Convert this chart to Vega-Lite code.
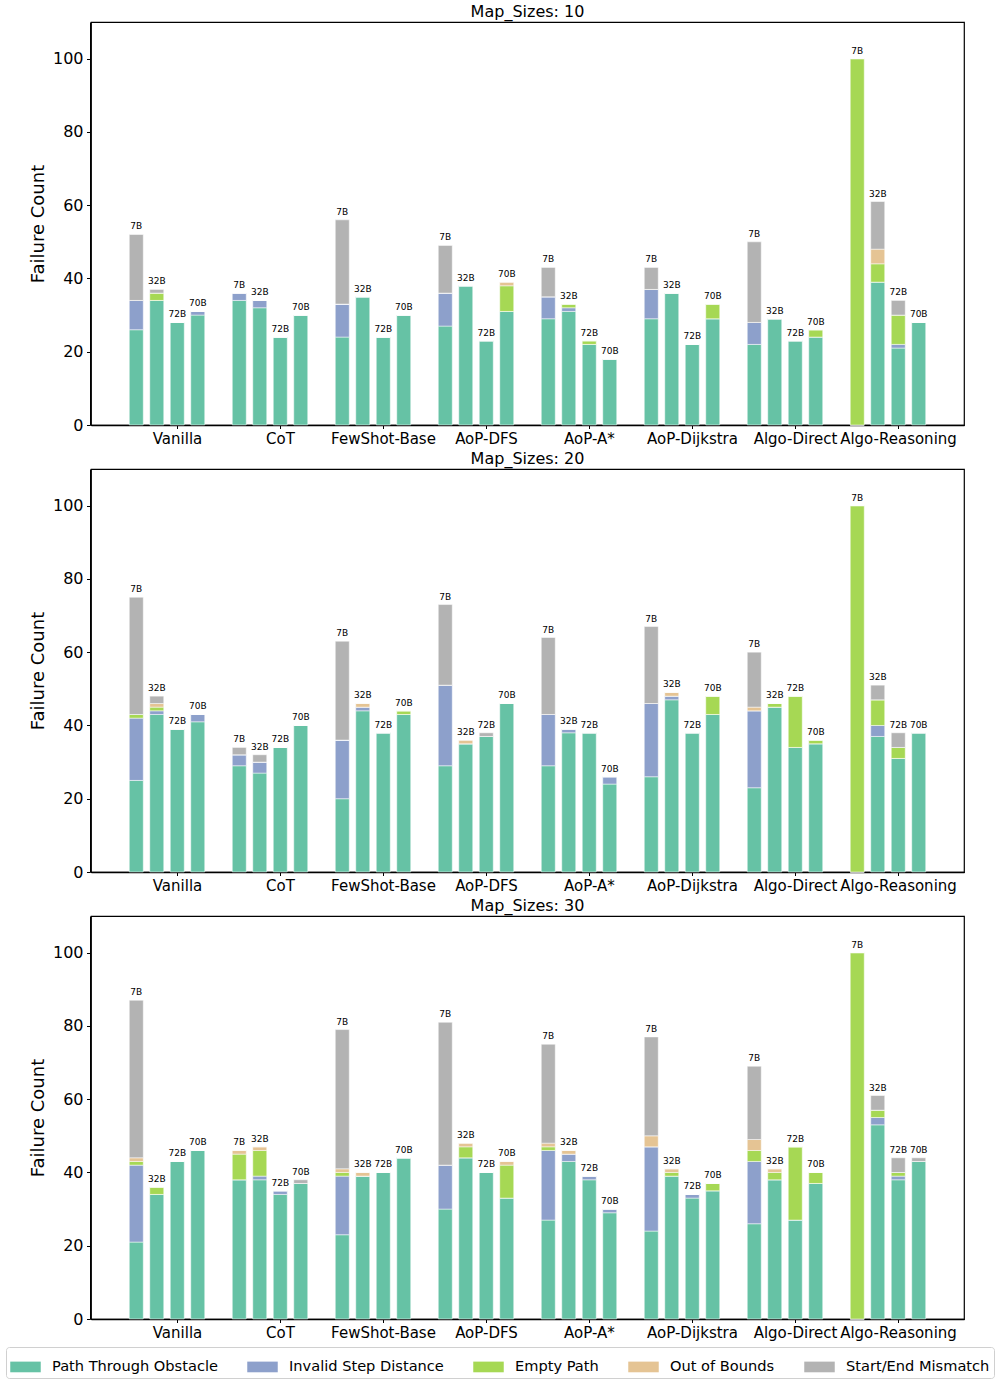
{
  "$schema": "https://vega.github.io/schema/vega-lite/v6.json",
  "background": "white",
  "padding": {"left": 5, "top": 3, "right": 3, "bottom": 3},
  "data": {"values": [
    {"s": 10, "m": "Vanilla", "mo": "7B", "Path Through Obstacle": 26, "Invalid Step Distance": 8, "Empty Path": 0, "Out of Bounds": 0, "Start/End Mismatch": 18},
    {"s": 10, "m": "Vanilla", "mo": "32B", "Path Through Obstacle": 34, "Invalid Step Distance": 0, "Empty Path": 2, "Out of Bounds": 0, "Start/End Mismatch": 1},
    {"s": 10, "m": "Vanilla", "mo": "72B", "Path Through Obstacle": 28, "Invalid Step Distance": 0, "Empty Path": 0, "Out of Bounds": 0, "Start/End Mismatch": 0},
    {"s": 10, "m": "Vanilla", "mo": "70B", "Path Through Obstacle": 30, "Invalid Step Distance": 1, "Empty Path": 0, "Out of Bounds": 0, "Start/End Mismatch": 0},
    {"s": 10, "m": "CoT", "mo": "7B", "Path Through Obstacle": 34, "Invalid Step Distance": 2, "Empty Path": 0, "Out of Bounds": 0, "Start/End Mismatch": 0},
    {"s": 10, "m": "CoT", "mo": "32B", "Path Through Obstacle": 32, "Invalid Step Distance": 2, "Empty Path": 0, "Out of Bounds": 0, "Start/End Mismatch": 0},
    {"s": 10, "m": "CoT", "mo": "72B", "Path Through Obstacle": 24, "Invalid Step Distance": 0, "Empty Path": 0, "Out of Bounds": 0, "Start/End Mismatch": 0},
    {"s": 10, "m": "CoT", "mo": "70B", "Path Through Obstacle": 30, "Invalid Step Distance": 0, "Empty Path": 0, "Out of Bounds": 0, "Start/End Mismatch": 0},
    {"s": 10, "m": "FewShot-Base", "mo": "7B", "Path Through Obstacle": 24, "Invalid Step Distance": 9, "Empty Path": 0, "Out of Bounds": 0, "Start/End Mismatch": 23},
    {"s": 10, "m": "FewShot-Base", "mo": "32B", "Path Through Obstacle": 35, "Invalid Step Distance": 0, "Empty Path": 0, "Out of Bounds": 0, "Start/End Mismatch": 0},
    {"s": 10, "m": "FewShot-Base", "mo": "72B", "Path Through Obstacle": 24, "Invalid Step Distance": 0, "Empty Path": 0, "Out of Bounds": 0, "Start/End Mismatch": 0},
    {"s": 10, "m": "FewShot-Base", "mo": "70B", "Path Through Obstacle": 30, "Invalid Step Distance": 0, "Empty Path": 0, "Out of Bounds": 0, "Start/End Mismatch": 0},
    {"s": 10, "m": "AoP-DFS", "mo": "7B", "Path Through Obstacle": 27, "Invalid Step Distance": 9, "Empty Path": 0, "Out of Bounds": 0, "Start/End Mismatch": 13},
    {"s": 10, "m": "AoP-DFS", "mo": "32B", "Path Through Obstacle": 38, "Invalid Step Distance": 0, "Empty Path": 0, "Out of Bounds": 0, "Start/End Mismatch": 0},
    {"s": 10, "m": "AoP-DFS", "mo": "72B", "Path Through Obstacle": 23, "Invalid Step Distance": 0, "Empty Path": 0, "Out of Bounds": 0, "Start/End Mismatch": 0},
    {"s": 10, "m": "AoP-DFS", "mo": "70B", "Path Through Obstacle": 31, "Invalid Step Distance": 0, "Empty Path": 7, "Out of Bounds": 1, "Start/End Mismatch": 0},
    {"s": 10, "m": "AoP-A*", "mo": "7B", "Path Through Obstacle": 29, "Invalid Step Distance": 6, "Empty Path": 0, "Out of Bounds": 0, "Start/End Mismatch": 8},
    {"s": 10, "m": "AoP-A*", "mo": "32B", "Path Through Obstacle": 31, "Invalid Step Distance": 1, "Empty Path": 1, "Out of Bounds": 0, "Start/End Mismatch": 0},
    {"s": 10, "m": "AoP-A*", "mo": "72B", "Path Through Obstacle": 22, "Invalid Step Distance": 0, "Empty Path": 1, "Out of Bounds": 0, "Start/End Mismatch": 0},
    {"s": 10, "m": "AoP-A*", "mo": "70B", "Path Through Obstacle": 18, "Invalid Step Distance": 0, "Empty Path": 0, "Out of Bounds": 0, "Start/End Mismatch": 0},
    {"s": 10, "m": "AoP-Dijkstra", "mo": "7B", "Path Through Obstacle": 29, "Invalid Step Distance": 8, "Empty Path": 0, "Out of Bounds": 0, "Start/End Mismatch": 6},
    {"s": 10, "m": "AoP-Dijkstra", "mo": "32B", "Path Through Obstacle": 36, "Invalid Step Distance": 0, "Empty Path": 0, "Out of Bounds": 0, "Start/End Mismatch": 0},
    {"s": 10, "m": "AoP-Dijkstra", "mo": "72B", "Path Through Obstacle": 22, "Invalid Step Distance": 0, "Empty Path": 0, "Out of Bounds": 0, "Start/End Mismatch": 0},
    {"s": 10, "m": "AoP-Dijkstra", "mo": "70B", "Path Through Obstacle": 29, "Invalid Step Distance": 0, "Empty Path": 4, "Out of Bounds": 0, "Start/End Mismatch": 0},
    {"s": 10, "m": "Algo-Direct", "mo": "7B", "Path Through Obstacle": 22, "Invalid Step Distance": 6, "Empty Path": 0, "Out of Bounds": 0, "Start/End Mismatch": 22},
    {"s": 10, "m": "Algo-Direct", "mo": "32B", "Path Through Obstacle": 29, "Invalid Step Distance": 0, "Empty Path": 0, "Out of Bounds": 0, "Start/End Mismatch": 0},
    {"s": 10, "m": "Algo-Direct", "mo": "72B", "Path Through Obstacle": 23, "Invalid Step Distance": 0, "Empty Path": 0, "Out of Bounds": 0, "Start/End Mismatch": 0},
    {"s": 10, "m": "Algo-Direct", "mo": "70B", "Path Through Obstacle": 24, "Invalid Step Distance": 0, "Empty Path": 2, "Out of Bounds": 0, "Start/End Mismatch": 0},
    {"s": 10, "m": "Algo-Reasoning", "mo": "7B", "Path Through Obstacle": 0, "Invalid Step Distance": 0, "Empty Path": 100, "Out of Bounds": 0, "Start/End Mismatch": 0},
    {"s": 10, "m": "Algo-Reasoning", "mo": "32B", "Path Through Obstacle": 39, "Invalid Step Distance": 0, "Empty Path": 5, "Out of Bounds": 4, "Start/End Mismatch": 13},
    {"s": 10, "m": "Algo-Reasoning", "mo": "72B", "Path Through Obstacle": 21, "Invalid Step Distance": 1, "Empty Path": 8, "Out of Bounds": 0, "Start/End Mismatch": 4},
    {"s": 10, "m": "Algo-Reasoning", "mo": "70B", "Path Through Obstacle": 28, "Invalid Step Distance": 0, "Empty Path": 0, "Out of Bounds": 0, "Start/End Mismatch": 0},

    {"s": 20, "m": "Vanilla", "mo": "7B", "Path Through Obstacle": 25, "Invalid Step Distance": 17, "Empty Path": 1, "Out of Bounds": 0, "Start/End Mismatch": 32},
    {"s": 20, "m": "Vanilla", "mo": "32B", "Path Through Obstacle": 43, "Invalid Step Distance": 1, "Empty Path": 1, "Out of Bounds": 1, "Start/End Mismatch": 2},
    {"s": 20, "m": "Vanilla", "mo": "72B", "Path Through Obstacle": 39, "Invalid Step Distance": 0, "Empty Path": 0, "Out of Bounds": 0, "Start/End Mismatch": 0},
    {"s": 20, "m": "Vanilla", "mo": "70B", "Path Through Obstacle": 41, "Invalid Step Distance": 2, "Empty Path": 0, "Out of Bounds": 0, "Start/End Mismatch": 0},
    {"s": 20, "m": "CoT", "mo": "7B", "Path Through Obstacle": 29, "Invalid Step Distance": 3, "Empty Path": 0, "Out of Bounds": 0, "Start/End Mismatch": 2},
    {"s": 20, "m": "CoT", "mo": "32B", "Path Through Obstacle": 27, "Invalid Step Distance": 3, "Empty Path": 0, "Out of Bounds": 0, "Start/End Mismatch": 2},
    {"s": 20, "m": "CoT", "mo": "72B", "Path Through Obstacle": 34, "Invalid Step Distance": 0, "Empty Path": 0, "Out of Bounds": 0, "Start/End Mismatch": 0},
    {"s": 20, "m": "CoT", "mo": "70B", "Path Through Obstacle": 40, "Invalid Step Distance": 0, "Empty Path": 0, "Out of Bounds": 0, "Start/End Mismatch": 0},
    {"s": 20, "m": "FewShot-Base", "mo": "7B", "Path Through Obstacle": 20, "Invalid Step Distance": 16, "Empty Path": 0, "Out of Bounds": 0, "Start/End Mismatch": 27},
    {"s": 20, "m": "FewShot-Base", "mo": "32B", "Path Through Obstacle": 44, "Invalid Step Distance": 1, "Empty Path": 0, "Out of Bounds": 1, "Start/End Mismatch": 0},
    {"s": 20, "m": "FewShot-Base", "mo": "72B", "Path Through Obstacle": 38, "Invalid Step Distance": 0, "Empty Path": 0, "Out of Bounds": 0, "Start/End Mismatch": 0},
    {"s": 20, "m": "FewShot-Base", "mo": "70B", "Path Through Obstacle": 43, "Invalid Step Distance": 0, "Empty Path": 1, "Out of Bounds": 0, "Start/End Mismatch": 0},
    {"s": 20, "m": "AoP-DFS", "mo": "7B", "Path Through Obstacle": 29, "Invalid Step Distance": 22, "Empty Path": 0, "Out of Bounds": 0, "Start/End Mismatch": 22},
    {"s": 20, "m": "AoP-DFS", "mo": "32B", "Path Through Obstacle": 35, "Invalid Step Distance": 0, "Empty Path": 0, "Out of Bounds": 1, "Start/End Mismatch": 0},
    {"s": 20, "m": "AoP-DFS", "mo": "72B", "Path Through Obstacle": 37, "Invalid Step Distance": 0, "Empty Path": 0, "Out of Bounds": 0, "Start/End Mismatch": 1},
    {"s": 20, "m": "AoP-DFS", "mo": "70B", "Path Through Obstacle": 46, "Invalid Step Distance": 0, "Empty Path": 0, "Out of Bounds": 0, "Start/End Mismatch": 0},
    {"s": 20, "m": "AoP-A*", "mo": "7B", "Path Through Obstacle": 29, "Invalid Step Distance": 14, "Empty Path": 0, "Out of Bounds": 0, "Start/End Mismatch": 21},
    {"s": 20, "m": "AoP-A*", "mo": "32B", "Path Through Obstacle": 38, "Invalid Step Distance": 1, "Empty Path": 0, "Out of Bounds": 0, "Start/End Mismatch": 0},
    {"s": 20, "m": "AoP-A*", "mo": "72B", "Path Through Obstacle": 38, "Invalid Step Distance": 0, "Empty Path": 0, "Out of Bounds": 0, "Start/End Mismatch": 0},
    {"s": 20, "m": "AoP-A*", "mo": "70B", "Path Through Obstacle": 24, "Invalid Step Distance": 2, "Empty Path": 0, "Out of Bounds": 0, "Start/End Mismatch": 0},
    {"s": 20, "m": "AoP-Dijkstra", "mo": "7B", "Path Through Obstacle": 26, "Invalid Step Distance": 20, "Empty Path": 0, "Out of Bounds": 0, "Start/End Mismatch": 21},
    {"s": 20, "m": "AoP-Dijkstra", "mo": "32B", "Path Through Obstacle": 47, "Invalid Step Distance": 1, "Empty Path": 0, "Out of Bounds": 1, "Start/End Mismatch": 0},
    {"s": 20, "m": "AoP-Dijkstra", "mo": "72B", "Path Through Obstacle": 38, "Invalid Step Distance": 0, "Empty Path": 0, "Out of Bounds": 0, "Start/End Mismatch": 0},
    {"s": 20, "m": "AoP-Dijkstra", "mo": "70B", "Path Through Obstacle": 43, "Invalid Step Distance": 0, "Empty Path": 5, "Out of Bounds": 0, "Start/End Mismatch": 0},
    {"s": 20, "m": "Algo-Direct", "mo": "7B", "Path Through Obstacle": 23, "Invalid Step Distance": 21, "Empty Path": 0, "Out of Bounds": 1, "Start/End Mismatch": 15},
    {"s": 20, "m": "Algo-Direct", "mo": "32B", "Path Through Obstacle": 45, "Invalid Step Distance": 0, "Empty Path": 1, "Out of Bounds": 0, "Start/End Mismatch": 0},
    {"s": 20, "m": "Algo-Direct", "mo": "72B", "Path Through Obstacle": 34, "Invalid Step Distance": 0, "Empty Path": 14, "Out of Bounds": 0, "Start/End Mismatch": 0},
    {"s": 20, "m": "Algo-Direct", "mo": "70B", "Path Through Obstacle": 35, "Invalid Step Distance": 0, "Empty Path": 1, "Out of Bounds": 0, "Start/End Mismatch": 0},
    {"s": 20, "m": "Algo-Reasoning", "mo": "7B", "Path Through Obstacle": 0, "Invalid Step Distance": 0, "Empty Path": 100, "Out of Bounds": 0, "Start/End Mismatch": 0},
    {"s": 20, "m": "Algo-Reasoning", "mo": "32B", "Path Through Obstacle": 37, "Invalid Step Distance": 3, "Empty Path": 7, "Out of Bounds": 0, "Start/End Mismatch": 4},
    {"s": 20, "m": "Algo-Reasoning", "mo": "72B", "Path Through Obstacle": 31, "Invalid Step Distance": 0, "Empty Path": 3, "Out of Bounds": 0, "Start/End Mismatch": 4},
    {"s": 20, "m": "Algo-Reasoning", "mo": "70B", "Path Through Obstacle": 38, "Invalid Step Distance": 0, "Empty Path": 0, "Out of Bounds": 0, "Start/End Mismatch": 0},

    {"s": 30, "m": "Vanilla", "mo": "7B", "Path Through Obstacle": 21, "Invalid Step Distance": 21, "Empty Path": 1, "Out of Bounds": 1, "Start/End Mismatch": 43},
    {"s": 30, "m": "Vanilla", "mo": "32B", "Path Through Obstacle": 34, "Invalid Step Distance": 0, "Empty Path": 2, "Out of Bounds": 0, "Start/End Mismatch": 0},
    {"s": 30, "m": "Vanilla", "mo": "72B", "Path Through Obstacle": 43, "Invalid Step Distance": 0, "Empty Path": 0, "Out of Bounds": 0, "Start/End Mismatch": 0},
    {"s": 30, "m": "Vanilla", "mo": "70B", "Path Through Obstacle": 46, "Invalid Step Distance": 0, "Empty Path": 0, "Out of Bounds": 0, "Start/End Mismatch": 0},
    {"s": 30, "m": "CoT", "mo": "7B", "Path Through Obstacle": 38, "Invalid Step Distance": 0, "Empty Path": 7, "Out of Bounds": 1, "Start/End Mismatch": 0},
    {"s": 30, "m": "CoT", "mo": "32B", "Path Through Obstacle": 38, "Invalid Step Distance": 1, "Empty Path": 7, "Out of Bounds": 1, "Start/End Mismatch": 0},
    {"s": 30, "m": "CoT", "mo": "72B", "Path Through Obstacle": 34, "Invalid Step Distance": 1, "Empty Path": 0, "Out of Bounds": 0, "Start/End Mismatch": 0},
    {"s": 30, "m": "CoT", "mo": "70B", "Path Through Obstacle": 37, "Invalid Step Distance": 0, "Empty Path": 0, "Out of Bounds": 0, "Start/End Mismatch": 1},
    {"s": 30, "m": "FewShot-Base", "mo": "7B", "Path Through Obstacle": 23, "Invalid Step Distance": 16, "Empty Path": 1, "Out of Bounds": 1, "Start/End Mismatch": 38},
    {"s": 30, "m": "FewShot-Base", "mo": "32B", "Path Through Obstacle": 39, "Invalid Step Distance": 0, "Empty Path": 0, "Out of Bounds": 1, "Start/End Mismatch": 0},
    {"s": 30, "m": "FewShot-Base", "mo": "72B", "Path Through Obstacle": 40, "Invalid Step Distance": 0, "Empty Path": 0, "Out of Bounds": 0, "Start/End Mismatch": 0},
    {"s": 30, "m": "FewShot-Base", "mo": "70B", "Path Through Obstacle": 44, "Invalid Step Distance": 0, "Empty Path": 0, "Out of Bounds": 0, "Start/End Mismatch": 0},
    {"s": 30, "m": "AoP-DFS", "mo": "7B", "Path Through Obstacle": 30, "Invalid Step Distance": 12, "Empty Path": 0, "Out of Bounds": 0, "Start/End Mismatch": 39},
    {"s": 30, "m": "AoP-DFS", "mo": "32B", "Path Through Obstacle": 44, "Invalid Step Distance": 0, "Empty Path": 3, "Out of Bounds": 1, "Start/End Mismatch": 0},
    {"s": 30, "m": "AoP-DFS", "mo": "72B", "Path Through Obstacle": 40, "Invalid Step Distance": 0, "Empty Path": 0, "Out of Bounds": 0, "Start/End Mismatch": 0},
    {"s": 30, "m": "AoP-DFS", "mo": "70B", "Path Through Obstacle": 33, "Invalid Step Distance": 0, "Empty Path": 9, "Out of Bounds": 1, "Start/End Mismatch": 0},
    {"s": 30, "m": "AoP-A*", "mo": "7B", "Path Through Obstacle": 27, "Invalid Step Distance": 19, "Empty Path": 1, "Out of Bounds": 1, "Start/End Mismatch": 27},
    {"s": 30, "m": "AoP-A*", "mo": "32B", "Path Through Obstacle": 43, "Invalid Step Distance": 2, "Empty Path": 0, "Out of Bounds": 1, "Start/End Mismatch": 0},
    {"s": 30, "m": "AoP-A*", "mo": "72B", "Path Through Obstacle": 38, "Invalid Step Distance": 1, "Empty Path": 0, "Out of Bounds": 0, "Start/End Mismatch": 0},
    {"s": 30, "m": "AoP-A*", "mo": "70B", "Path Through Obstacle": 29, "Invalid Step Distance": 1, "Empty Path": 0, "Out of Bounds": 0, "Start/End Mismatch": 0},
    {"s": 30, "m": "AoP-Dijkstra", "mo": "7B", "Path Through Obstacle": 24, "Invalid Step Distance": 23, "Empty Path": 0, "Out of Bounds": 3, "Start/End Mismatch": 27},
    {"s": 30, "m": "AoP-Dijkstra", "mo": "32B", "Path Through Obstacle": 39, "Invalid Step Distance": 0, "Empty Path": 1, "Out of Bounds": 1, "Start/End Mismatch": 0},
    {"s": 30, "m": "AoP-Dijkstra", "mo": "72B", "Path Through Obstacle": 33, "Invalid Step Distance": 1, "Empty Path": 0, "Out of Bounds": 0, "Start/End Mismatch": 0},
    {"s": 30, "m": "AoP-Dijkstra", "mo": "70B", "Path Through Obstacle": 35, "Invalid Step Distance": 0, "Empty Path": 2, "Out of Bounds": 0, "Start/End Mismatch": 0},
    {"s": 30, "m": "Algo-Direct", "mo": "7B", "Path Through Obstacle": 26, "Invalid Step Distance": 17, "Empty Path": 3, "Out of Bounds": 3, "Start/End Mismatch": 20},
    {"s": 30, "m": "Algo-Direct", "mo": "32B", "Path Through Obstacle": 38, "Invalid Step Distance": 0, "Empty Path": 2, "Out of Bounds": 1, "Start/End Mismatch": 0},
    {"s": 30, "m": "Algo-Direct", "mo": "72B", "Path Through Obstacle": 27, "Invalid Step Distance": 0, "Empty Path": 20, "Out of Bounds": 0, "Start/End Mismatch": 0},
    {"s": 30, "m": "Algo-Direct", "mo": "70B", "Path Through Obstacle": 37, "Invalid Step Distance": 0, "Empty Path": 3, "Out of Bounds": 0, "Start/End Mismatch": 0},
    {"s": 30, "m": "Algo-Reasoning", "mo": "7B", "Path Through Obstacle": 0, "Invalid Step Distance": 0, "Empty Path": 100, "Out of Bounds": 0, "Start/End Mismatch": 0},
    {"s": 30, "m": "Algo-Reasoning", "mo": "32B", "Path Through Obstacle": 53, "Invalid Step Distance": 2, "Empty Path": 2, "Out of Bounds": 0, "Start/End Mismatch": 4},
    {"s": 30, "m": "Algo-Reasoning", "mo": "72B", "Path Through Obstacle": 38, "Invalid Step Distance": 1, "Empty Path": 1, "Out of Bounds": 0, "Start/End Mismatch": 4},
    {"s": 30, "m": "Algo-Reasoning", "mo": "70B", "Path Through Obstacle": 43, "Invalid Step Distance": 0, "Empty Path": 0, "Out of Bounds": 0, "Start/End Mismatch": 1}
  ]},
  "transform": [
    {"fold": ["Path Through Obstacle", "Invalid Step Distance", "Empty Path", "Out of Bounds", "Start/End Mismatch"], "as": ["category", "count"]},
    {"lookup": "category", "from": {"data": {"values": [
      {"category": "Path Through Obstacle", "rank": 1},
      {"category": "Invalid Step Distance", "rank": 2},
      {"category": "Empty Path", "rank": 3},
      {"category": "Out of Bounds", "rank": 4},
      {"category": "Start/End Mismatch", "rank": 5}
    ]}, "key": "category", "fields": ["rank"]}},
    {"joinaggregate": [{"op": "sum", "field": "count", "as": "total"}], "groupby": ["s", "m", "mo"]}
  ],
  "facet": {"field": "s", "type": "ordinal", "header": {"title": null, "labelExpr": "'Map_Sizes: ' + datum.value", "labelFontSize": 16, "labelFont": "DejaVu Sans", "labelColor": "black", "labelPadding": 2}},
  "columns": 1,
  "spacing": {"row": 2},
  "resolve": {"axis": {"x": "independent"}},
  "spec": {
    "width": 873,
    "height": 403,
    "encoding": {
      "x": {"field": "m", "type": "nominal", "sort": ["Vanilla", "CoT", "FewShot-Base", "AoP-DFS", "AoP-A*", "AoP-Dijkstra", "Algo-Direct", "Algo-Reasoning"],
        "scale": {"paddingInner": 0.204, "paddingOuter": 0.34},
        "axis": {"title": null, "labelAngle": 0, "labelFontSize": 15, "tickOffset": 10, "tickSize": 3.5, "labelPadding": 3, "domainWidth": 1.5}},
      "xOffset": {"field": "mo", "type": "nominal", "sort": ["7B", "32B", "72B", "70B"], "scale": {"paddingInner": 0.317, "paddingOuter": 0.1585}}
    },
    "layer": [
      {
        "mark": {"type": "bar", "stroke": "white", "strokeWidth": 0.5},
        "encoding": {
          "y": {"field": "count", "type": "quantitative", "stack": "zero",
            "scale": {"domain": [0, 110], "nice": false},
            "axis": {"title": "Failure Count", "titleFontSize": 18, "titleFontWeight": "normal", "titlePadding": 5, "labelFontSize": 16, "values": [0, 20, 40, 60, 80, 100], "tickSize": 3.5, "labelPadding": 3.5}},
          "color": {"field": "category", "type": "nominal",
            "scale": {"domain": ["Path Through Obstacle", "Invalid Step Distance", "Empty Path", "Out of Bounds", "Start/End Mismatch"],
              "range": ["#66c2a5", "#8da0cb", "#a6d854", "#e5c494", "#b3b3b3"]},
            "legend": {"title": null, "orient": "none", "legendX": -85, "legendY": 1325, "direction": "horizontal", "columns": 5, "symbolType": "M-1,-0.35H1V0.35H-1Z", "symbolSize": 930, "symbolStrokeWidth": 0, "symbolOpacity": 1, "labelFontSize": 14.6, "labelFont": "DejaVu Sans", "labelColor": "black", "labelOffset": 11, "columnPadding": 29, "strokeColor": "#d0d0d0", "padding": 4, "cornerRadius": 3, "labelLimit": 300}},
          "order": {"field": "rank", "type": "quantitative", "sort": "ascending"}
        }
      },
      {
        "transform": [{"filter": "datum.rank == 1"}],
        "mark": {"type": "text", "fontSize": 9, "baseline": "bottom", "dy": -3, "color": "black", "font": "DejaVu Sans"},
        "encoding": {
          "y": {"field": "total", "type": "quantitative"},
          "text": {"field": "mo", "type": "nominal"}
        }
      }
    ]
  },
  "config": {
    "font": "DejaVu Sans",
    "view": {"stroke": "black", "strokeWidth": 1.2},
    "axis": {"grid": false, "domainColor": "black", "tickColor": "black", "labelColor": "black", "titleColor": "black", "labelFont": "DejaVu Sans", "titleFont": "DejaVu Sans"}
  }
}
